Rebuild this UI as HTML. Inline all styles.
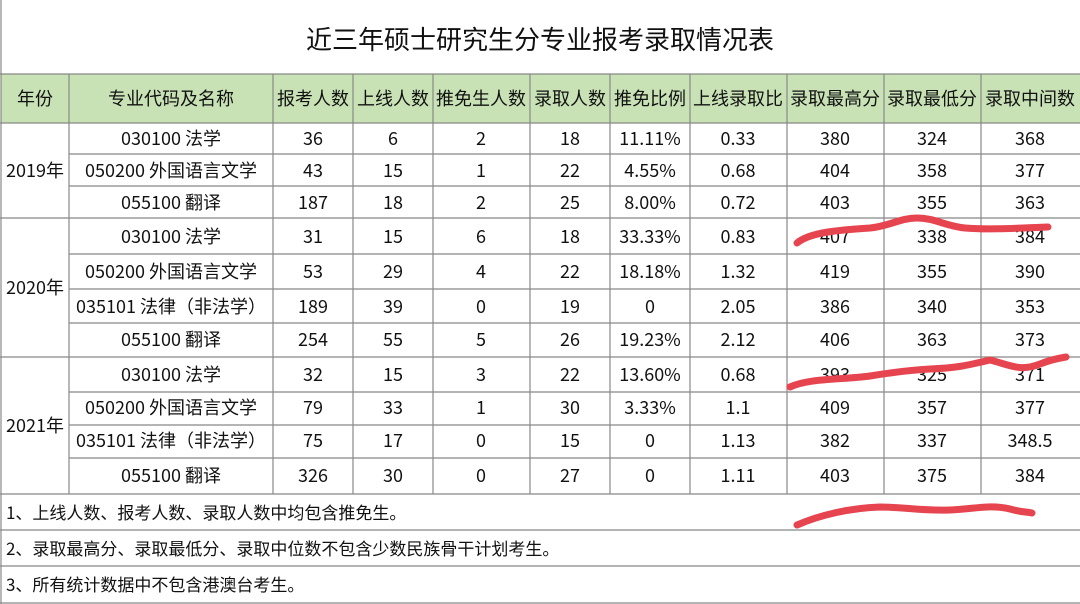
<!DOCTYPE html>
<html><head><meta charset="utf-8"><style>
html,body{margin:0;padding:0;background:#fff;}
svg{display:block;font-family:"Noto Sans CJK SC","Liberation Sans",sans-serif;}
</style></head><body>
<svg width="1080" height="604" viewBox="0 0 1080 604" xmlns="http://www.w3.org/2000/svg">
<rect width="1080" height="604" fill="#fff"/>
<text x="540" y="49" font-size="26" text-anchor="middle" fill="#111">近三年硕士研究生分专业报考录取情况表</text>
<rect x="1" y="74" width="1079" height="49" fill="#c8e2b6"/>
<g stroke="#888" stroke-width="1.2" fill="none">
<line x1="1" y1="0" x2="1" y2="604"/>
<line x1="0" y1="74" x2="1080" y2="74"/>
<line x1="0" y1="123" x2="1080" y2="123"/>
<line x1="69" y1="154" x2="1080" y2="154"/>
<line x1="69" y1="186" x2="1080" y2="186"/>
<line x1="0" y1="218" x2="1080" y2="218"/>
<line x1="69" y1="254" x2="1080" y2="254"/>
<line x1="69" y1="289" x2="1080" y2="289"/>
<line x1="69" y1="323" x2="1080" y2="323"/>
<line x1="0" y1="357" x2="1080" y2="357"/>
<line x1="69" y1="392" x2="1080" y2="392"/>
<line x1="69" y1="425" x2="1080" y2="425"/>
<line x1="69" y1="458" x2="1080" y2="458"/>
<line x1="0" y1="494" x2="1080" y2="494"/>
<line x1="0" y1="530" x2="1080" y2="530"/>
<line x1="0" y1="566" x2="1080" y2="566"/>
<line x1="0" y1="603" x2="1080" y2="603"/>
<line x1="69" y1="74" x2="69" y2="494"/>
<line x1="273" y1="74" x2="273" y2="494"/>
<line x1="353" y1="74" x2="353" y2="494"/>
<line x1="433" y1="74" x2="433" y2="494"/>
<line x1="530" y1="74" x2="530" y2="494"/>
<line x1="610" y1="74" x2="610" y2="494"/>
<line x1="690" y1="74" x2="690" y2="494"/>
<line x1="787" y1="74" x2="787" y2="494"/>
<line x1="884" y1="74" x2="884" y2="494"/>
<line x1="981" y1="74" x2="981" y2="494"/>
</g>
<g font-size="18" fill="#111" text-anchor="middle">
<text x="35" y="105">年份</text><text x="171" y="105">专业代码及名称</text><text x="313" y="105">报考人数</text><text x="393" y="105">上线人数</text><text x="481" y="105">推免生人数</text><text x="570" y="105">录取人数</text><text x="650" y="105">推免比例</text><text x="738" y="105">上线录取比</text><text x="835" y="105">录取最高分</text><text x="932" y="105">录取最低分</text><text x="1030" y="105">录取中间数</text>
<text x="35" y="177">2019年</text><text x="35" y="294">2020年</text><text x="35" y="432">2021年</text>
</g>
<g font-size="18" fill="#111" text-anchor="middle">
<g transform="translate(0,145)"><text x="171">030100 法学</text><text x="313">36</text><text x="393">6</text><text x="481">2</text><text x="570">18</text><text x="650">11.11%</text><text x="738">0.33</text><text x="835">380</text><text x="932">324</text><text x="1030">368</text></g>
<g transform="translate(0,177)"><text x="171">050200 外国语言文学</text><text x="313">43</text><text x="393">15</text><text x="481">1</text><text x="570">22</text><text x="650">4.55%</text><text x="738">0.68</text><text x="835">404</text><text x="932">358</text><text x="1030">377</text></g>
<g transform="translate(0,209)"><text x="171">055100 翻译</text><text x="313">187</text><text x="393">18</text><text x="481">2</text><text x="570">25</text><text x="650">8.00%</text><text x="738">0.72</text><text x="835">403</text><text x="932">355</text><text x="1030">363</text></g>
<g transform="translate(0,243)"><text x="171">030100 法学</text><text x="313">31</text><text x="393">15</text><text x="481">6</text><text x="570">18</text><text x="650">33.33%</text><text x="738">0.83</text><text x="835">407</text><text x="932">338</text><text x="1030">384</text></g>
<g transform="translate(0,278)"><text x="171">050200 外国语言文学</text><text x="313">53</text><text x="393">29</text><text x="481">4</text><text x="570">22</text><text x="650">18.18%</text><text x="738">1.32</text><text x="835">419</text><text x="932">355</text><text x="1030">390</text></g>
<g transform="translate(0,313)"><text x="171">035101 法律（非法学）</text><text x="313">189</text><text x="393">39</text><text x="481">0</text><text x="570">19</text><text x="650">0</text><text x="738">2.05</text><text x="835">386</text><text x="932">340</text><text x="1030">353</text></g>
<g transform="translate(0,346)"><text x="171">055100 翻译</text><text x="313">254</text><text x="393">55</text><text x="481">5</text><text x="570">26</text><text x="650">19.23%</text><text x="738">2.12</text><text x="835">406</text><text x="932">363</text><text x="1030">373</text></g>
<g transform="translate(0,381)"><text x="171">030100 法学</text><text x="313">32</text><text x="393">15</text><text x="481">3</text><text x="570">22</text><text x="650">13.60%</text><text x="738">0.68</text><text x="835">393</text><text x="932">325</text><text x="1030">371</text></g>
<g transform="translate(0,414)"><text x="171">050200 外国语言文学</text><text x="313">79</text><text x="393">33</text><text x="481">1</text><text x="570">30</text><text x="650">3.33%</text><text x="738">1.1</text><text x="835">409</text><text x="932">357</text><text x="1030">377</text></g>
<g transform="translate(0,447)"><text x="171">035101 法律（非法学）</text><text x="313">75</text><text x="393">17</text><text x="481">0</text><text x="570">15</text><text x="650">0</text><text x="738">1.13</text><text x="835">382</text><text x="932">337</text><text x="1030">348.5</text></g>
<g transform="translate(0,482)"><text x="171">055100 翻译</text><text x="313">326</text><text x="393">30</text><text x="481">0</text><text x="570">27</text><text x="650">0</text><text x="738">1.11</text><text x="835">403</text><text x="932">375</text><text x="1030">384</text></g>
</g>
<g font-size="17" fill="#111">
<text x="6" y="519">1、上线人数、报考人数、录取人数中均包含推免生。</text>
<text x="6" y="555">2、录取最高分、录取最低分、录取中位数不包含少数民族骨干计划考生。</text>
<text x="6" y="591">3、所有统计数据中不包含港澳台考生。</text>
</g>
<g stroke="#e64550" stroke-width="7" fill="none" stroke-linecap="round" stroke-linejoin="round">
<path d="M797,243 C810,232 840,230 870,228 C890,226 900,218 917,218 C935,218 945,226 965,228 C990,230 1020,228 1048,227"/>
<path d="M790,387 C810,378 840,380 870,376 C895,372 910,370 930,369 C955,368 965,366 990,360 C1010,365 1020,372 1040,364 C1050,360 1060,358 1066,357"/>
<path d="M797,525 C820,515 850,508 880,507 C905,507 920,511 950,510 C975,509 990,504 1010,509 C1020,512 1028,512 1032,513"/>
</g>
</svg>
</body></html>
